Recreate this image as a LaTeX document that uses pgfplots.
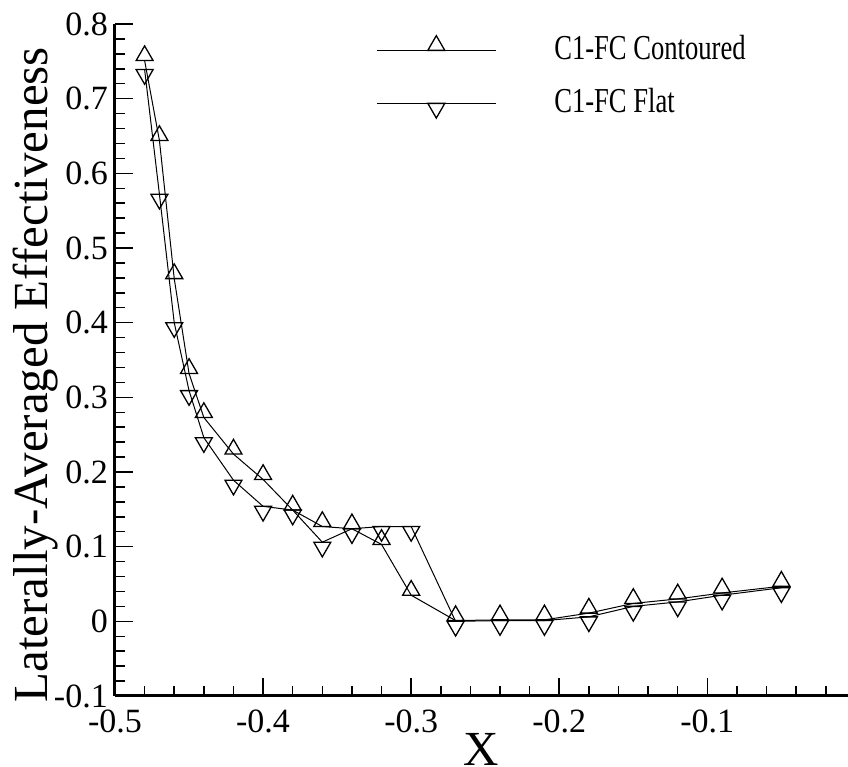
\documentclass[border=0pt]{standalone}
\usepackage{fontspec}
\setmainfont{Liberation Serif}
\newfontfamily\legfont{Liberation Serif}[FakeStretch=0.76]
\usepackage{pgfplots}
\pgfplotsset{compat=1.18}
\begin{document}
\begin{tikzpicture}
\begin{axis}[
  scale only axis,
  width=733pt, height=672pt,
  xmin=-0.5, xmax=-0.005,
  ymin=-0.1, ymax=0.8,
  axis lines*=left,
  axis line style={line width=3pt},
  enlargelimits=false,
  xtick={-0.5,-0.4,-0.3,-0.2,-0.1},
  xticklabels={-0.5,-0.4,-0.3,-0.2,-0.1},
  ytick={-0.1,0,0.1,0.2,0.3,0.4,0.5,0.6,0.7,0.8},
  yticklabels={-0.1,0,0.1,0.2,0.3,0.4,0.5,0.6,0.7,0.8},
  minor xtick={-0.48,-0.46,-0.44,-0.42,-0.38,-0.36,-0.34,-0.32,-0.28,-0.26,-0.24,-0.22,-0.18,-0.16,-0.14,-0.12,-0.08,-0.06,-0.04,-0.02},
  minor ytick={-0.08,-0.06,-0.04,-0.02,0.02,0.04,0.06,0.08,0.12,0.14,0.16,0.18,0.22,0.24,0.26,0.28,0.32,0.34,0.36,0.38,0.42,0.44,0.46,0.48,0.52,0.54,0.56,0.58,0.62,0.64,0.66,0.68,0.72,0.74,0.76,0.78},
  tick align=inside,
  major tick length=18pt,
  minor tick length=10pt,
  every tick/.style={black, line width=1.5pt},
  /pgf/number format/assume math mode=true,
  ticklabel style={font=\fontsize{34}{34}\selectfont},
  yticklabel style={inner sep=0pt, xshift=-7pt},
  xticklabel style={inner sep=0pt, yshift=-14pt},
  xlabel={X},
  ylabel={Laterally-Averaged Effectiveness},
  label style={font=\fontsize{49}{49}\selectfont},
  ylabel style={at={(axis description cs:-0.109,0.478)}, anchor=center},
  xlabel style={at={(axis description cs:0.5,0)}, anchor=center, inner sep=0pt, yshift=-53pt},
  legend style={draw=none, fill=none, at={(axis cs:-0.3257,0.7904)}, anchor=north west,
    font=\legfont\fontsize{35}{35}\selectfont, row sep=19pt,
    nodes={inner sep=0pt, text height=26pt, text depth=8pt, anchor=west},
    /tikz/every odd column/.append style={column sep=58pt}},
  legend cell align=left,
  legend image code/.code={\draw[mark repeat=2,mark phase=2] plot coordinates {(0pt,0pt) (59.5pt,0pt) (119pt,0pt)};},
]
\addplot[black, line width=1pt, mark=triangle, mark size=9.8pt, mark options={yshift=4.9pt, line width=1.3pt, fill=white}]
coordinates {
(-0.48,0.751) (-0.47,0.644) (-0.46,0.459) (-0.45,0.332) (-0.44,0.273)
(-0.42,0.224) (-0.40,0.190) (-0.38,0.149) (-0.36,0.127) (-0.34,0.124)
(-0.32,0.103) (-0.30,0.035) (-0.27,0.001) (-0.24,0.002) (-0.21,0.002)
(-0.18,0.011) (-0.15,0.024) (-0.12,0.030) (-0.09,0.038) (-0.05,0.047)
};
\addlegendentry{C1-FC Contoured}
\addplot[black, line width=1pt, mark=triangle, mark size=9.8pt, mark options={yshift=-4.9pt, rotate=180, line width=1.3pt, fill=white}]
coordinates {
(-0.48,0.739) (-0.47,0.572) (-0.46,0.400) (-0.45,0.309) (-0.44,0.246)
(-0.42,0.189) (-0.40,0.154) (-0.38,0.149) (-0.36,0.106) (-0.34,0.124)
(-0.32,0.127) (-0.30,0.127) (-0.27,0.000) (-0.24,0.001) (-0.21,0.001)
(-0.18,0.006) (-0.15,0.020) (-0.12,0.026) (-0.09,0.035) (-0.05,0.045)
};
\addlegendentry{C1-FC Flat}
\end{axis}
\pgfresetboundingbox
\useasboundingbox (-115pt,-71pt) rectangle (733pt,696pt);
\end{tikzpicture}
\end{document}
